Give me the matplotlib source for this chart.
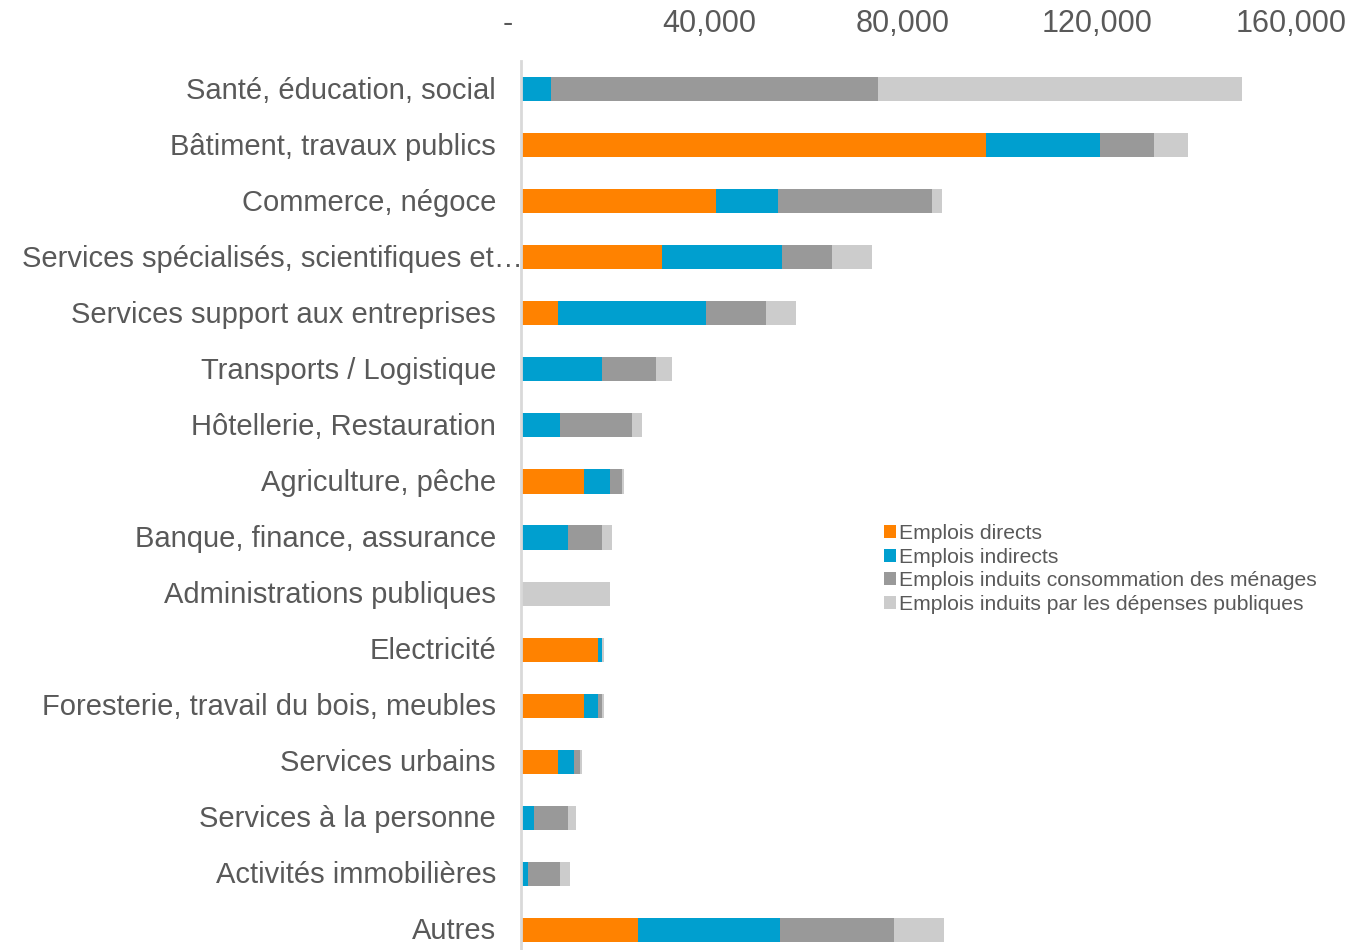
import numpy as np
import matplotlib.pyplot as plt
from matplotlib.transforms import ScaledTranslation

# --- données (emplois) ---
secteurs = [
    "Santé, éducation, social",
    "Bâtiment, travaux publics",
    "Commerce, négoce",
    "Services spécialisés, scientifiques et…",
    "Services support aux entreprises",
    "Transports / Logistique",
    "Hôtellerie, Restauration",
    "Agriculture, pêche",
    "Banque, finance, assurance",
    "Administrations publiques",
    "Electricité",
    "Foresterie, travail du bois, meubles",
    "Services urbains",
    "Services à la personne",
    "Activités immobilières",
    "Autres",
]
directs = [0, 95900, 40200, 29100, 7600, 0, 0, 13000, 0, 0, 15900, 13000, 7600, 0, 0, 24100]
indirects = [6200, 23400, 12800, 24700, 30500, 16700, 8000, 5400, 9700, 0, 800, 2900, 3300, 2700, 1400, 29300]
induits_menages = [67400, 11200, 31700, 10300, 12400, 11100, 14900, 2400, 7000, 0, 100, 800, 1300, 7000, 6600, 23500]
induits_publics = [75100, 7000, 2100, 8300, 6200, 3300, 2000, 400, 2100, 18400, 300, 400, 400, 1600, 2100, 10300]

series_labels = ["Emplois directs", "Emplois indirects",
                 "Emplois induits consommation des ménages",
                 "Emplois induits par les dépenses publiques"]
couleurs = ["#FF8200", "#009FCF", "#999999", "#CCCCCC"]

x_ticks = [0, 40000, 80000, 120000, 160000]
x_ticklabels = ["-", "40,000", "80,000", "120,000", "160,000"]

txt_color = "#595959"
plt.rcParams['font.family'] = ['Liberation Sans', 'DejaVu Sans']

fig = plt.figure(figsize=(13.71, 9.5), dpi=100)
ax = fig.add_axes((521 / 1371, 1 - 958 / 950, (1297 - 521) / 1371, (958 - 61) / 950))

y = np.arange(len(secteurs))
left = np.zeros(len(secteurs))
for vals, lab, c in zip([directs, indirects, induits_menages, induits_publics], series_labels, couleurs):
    vals = np.array(vals, dtype=float)
    ax.barh(y, vals, left=left, height=0.43, color=c, label=lab, linewidth=0)
    left += vals

ax.set_ylim(len(secteurs) - 0.5, -0.5)
ax.set_xlim(0, 160000)
ax.set_yticks(y)
ax.set_yticklabels(secteurs, fontsize=21, color=txt_color)
ax.xaxis.tick_top()
ax.set_xticks(x_ticks)
ax.set_xticklabels(x_ticklabels, fontsize=22, color=txt_color)
ax.tick_params(axis='x', length=0, pad=16)
ax.tick_params(axis='y', length=0, pad=18)

# décalage des étiquettes (format comptable)
for lbl in ax.get_xticklabels():
    dx = -13 if lbl.get_text() == "-" else -6
    lbl.set_transform(lbl.get_transform() + ScaledTranslation(dx / 100, 0, fig.dpi_scale_trans))

# étiquettes : un peu plus haut ; la tronquée déborde jusqu'à l'axe, comme dans Excel
for lbl in ax.get_yticklabels():
    dx = 0.27 if lbl.get_text().endswith("…") else 0
    lbl.set_transform(lbl.get_transform() + ScaledTranslation(dx, 0.015, fig.dpi_scale_trans))

for s in ['top', 'right', 'bottom']:
    ax.spines[s].set_visible(False)
ax.spines['left'].set_color('#D9D9D9')
ax.spines['left'].set_linewidth(2)

leg = fig.legend(loc='upper left', bbox_to_anchor=(884 / 1371, 1 - 524 / 950),
                 frameon=False, fontsize=15.2, handlelength=0.55, handleheight=0.55,
                 handletextpad=0.15, labelspacing=0.22, borderpad=0, borderaxespad=0)
for t in leg.get_texts():
    t.set_color(txt_color)

fig.savefig("out.png", dpi=100, facecolor='white')
